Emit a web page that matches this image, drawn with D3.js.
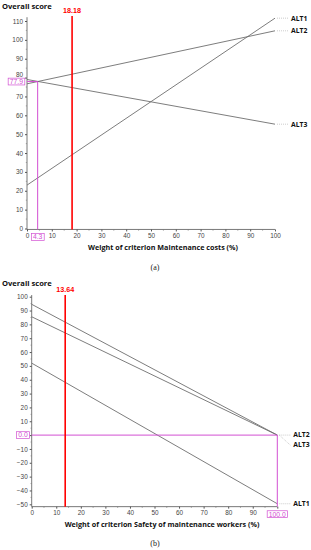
<!DOCTYPE html>
<html><head><meta charset="utf-8">
<script src="https://cdn.jsdelivr.net/npm/d3@7"></script>
<style>
html,body{margin:0;padding:0;background:#fff;}
svg{display:block;}
</style></head>
<body>
<svg id="c" width="311" height="550"></svg>
<script>
// ---- Data ----
const alternatives = ["ALT1", "ALT2", "ALT3"];
// Panel (a): weight of criterion Maintenance costs
const aWeights = [0, 100];
const aALT1 = [23.0, 111.5];
const aALT2 = [76.7, 104.8];
const aALT3 = [79.0, 55.3];
const aCurrentWeight = 18.18;
const aCrossWeight = 4.3;
const aCrossScore = 77.9;
const aYTicks = [0, 10, 20, 30, 40, 50, 60, 70, 80, 90, 100, 110];
const aXTicks = [0, 10, 20, 30, 40, 50, 60, 70, 80, 90, 100];
const aXTitle = "Weight of criterion Maintenance costs (%)";

// Panel (b): weight of criterion Safety of maintenance workers
const bWeights = [0, 100];
const bALT1 = [52.0, -49.6];
const bALT2 = [94.5, 0.0];
const bALT3 = [85.5, 0.0];
const bCurrentWeight = 13.64;
const bCrossWeight = 100.0;
const bCrossScore = 0.0;
const bYTicks = [-50, -40, -30, -20, -10, 0, 10, 20, 30, 40, 50, 60, 70, 80, 90, 100];
const bXTicks = [0, 10, 20, 30, 40, 50, 60, 70, 80, 90, 100];
const bXTitle = "Weight of criterion Safety of maintenance workers (%)";

const yTitle = "Overall score";

const svg = d3.select("#c");
const GRAY = "#6e6e6e", RED = "#ff0000", MAG = "#d24fd2", TXT = "#444";
const tickFont = "'Liberation Sans', Arial, sans-serif";

function panel(cfg) {
  const x = d3.scaleLinear().domain([0, 100]).range(cfg.xr);
  const y = d3.scaleLinear().domain(cfg.yd).range(cfg.yr);
  const g = svg.append("g");
  const axisY = cfg.axisYVal, topVal = cfg.topVal;
  const mx = x(cfg.crossW), my = y(cfg.crossS);

  // y title
  g.append("text").attr("x", cfg.titleX).attr("y", cfg.titleY)
    .attr("font-family", "'Open Sans', 'DejaVu Sans', sans-serif").attr("font-weight", "bold")
    .attr("font-size", 7.6).attr("fill", "#111").text(yTitle);

  // y axis
  const yAxis = d3.axisLeft(y).tickValues(cfg.yTicks).tickSize(2).tickPadding(2)
    .tickFormat(d3.format("d"));
  const ya = g.append("g").attr("transform", `translate(${x(0)},0)`).call(yAxis);
  ya.select(".domain").remove();
  ya.selectAll("line").attr("stroke", "#555");
  ya.selectAll("text").attr("font-family", tickFont).attr("font-size", 6.4).attr("fill", TXT);
  g.append("line").attr("x1", x(0)).attr("x2", x(0)).attr("y1", y(axisY)).attr("y2", y(topVal))
    .attr("stroke", "#555").attr("stroke-width", 0.8);
  const yMinor = cfg.yTicks.slice(0, -1).map(v => v + 5);
  g.selectAll(".ym").data(yMinor).join("line").attr("x1", x(0) - 1.2).attr("x2", x(0))
    .attr("y1", d => y(d)).attr("y2", d => y(d)).attr("stroke", "#777").attr("stroke-width", 0.6);

  // x axis
  const xAxis = d3.axisBottom(x).tickValues(cfg.xTicks).tickSize(2).tickPadding(2)
    .tickFormat(d3.format("d"));
  const xa = g.append("g").attr("transform", `translate(0,${y(axisY)})`).call(xAxis);
  xa.select(".domain").remove();
  xa.selectAll("line").attr("stroke", "#555");
  xa.selectAll("text").attr("font-family", tickFont).attr("font-size", 6.4).attr("fill", TXT);
  g.append("line").attr("x1", x(0)).attr("x2", x(100)).attr("y1", y(axisY)).attr("y2", y(axisY))
    .attr("stroke", "#555").attr("stroke-width", 0.8);
  const xMinor = cfg.xTicks.slice(0, -1).map(v => v + 5);
  g.selectAll(".xm").data(xMinor).join("line").attr("x1", d => x(d)).attr("x2", d => x(d))
    .attr("y1", y(axisY)).attr("y2", y(axisY) + 1.3).attr("stroke", "#777").attr("stroke-width", 0.6);

  // boxed labels replace tick labels at crossing value; nudge neighbours clear of the box
  xa.selectAll(".tick").filter(d => Math.abs(d - cfg.crossW) < 0.01).select("text").remove();
  ya.selectAll(".tick").filter(d => Math.abs(d - cfg.crossS) < 0.01).select("text").remove();
  ya.selectAll(".tick").each(function(d) {
    const dy = y(d) - my;
    if (Math.abs(d - cfg.crossS) > 0.01 && Math.abs(dy) < 7.6) {
      d3.select(this).select("text").attr("y", (dy < 0 ? -1 : 1) * (7.6 - Math.abs(dy)));
    }
  });

  // alternative lines
  const line = d3.line().x(d => x(d[0])).y(d => y(d[1]));
  cfg.series.forEach(s => {
    g.append("path").datum(cfg.weights.map((w, i) => [w, s.vals[i]]))
      .attr("d", line).attr("fill", "none").attr("stroke", GRAY).attr("stroke-width", 0.9);
  });

  // labels with spacing
  const ends = cfg.series.map(s => ({name: s.name, yEnd: y(s.vals[s.vals.length - 1]), order: s.order}))
    .sort((a, b) => a.yEnd - b.yEnd || a.order - b.order);
  let prev = -1e9;
  ends.forEach(e => { e.ly = Math.max(e.yEnd, prev + 10); prev = e.ly; });
  ends.forEach(e => {
    g.append("line").attr("x1", x(100) + 2).attr("x2", x(100) + 13).attr("y1", e.yEnd).attr("y2", e.ly)
      .attr("stroke", "#aaa").attr("stroke-width", 0.6).attr("stroke-dasharray", "1,1");
    g.append("text").attr("x", x(100) + 16).attr("y", e.ly).attr("dy", "0.35em")
      .attr("font-family", "'Open Sans', 'DejaVu Sans', sans-serif").attr("font-weight", "bold")
      .attr("font-size", 6.8).attr("fill", "#111").text(e.name);
  });

  // magenta cross lines
  g.append("path").attr("d", `M${x(0)},${my}H${mx}V${y(axisY)}`)
    .attr("fill", "none").attr("stroke", MAG).attr("stroke-width", 1);
  function box(cx, cy, txt, anchor) {
    const rect = g.append("rect");
    const t = g.append("text").attr("font-family", tickFont).attr("font-size", 6.8).attr("fill", MAG)
      .attr("text-anchor", anchor).attr("x", cx).attr("y", cy).attr("dy", "0.35em").text(txt);
    const bb = t.node().getBBox();
    rect.attr("x", bb.x - 1.6).attr("y", cy - 3.4).attr("width", bb.width + 3.2).attr("height", 6.8)
      .attr("fill", "#fff").attr("stroke", MAG).attr("stroke-width", 0.7);
  }
  box(x(0) - 4, my, d3.format(".1f")(cfg.crossS), "end");
  box(mx, y(axisY) + 7.5, d3.format(".1f")(cfg.crossW), "middle");

  // red current weight line
  const rx = x(cfg.current);
  g.append("line").attr("x1", rx).attr("x2", rx).attr("y1", cfg.redTop).attr("y2", y(axisY))
    .attr("stroke", RED).attr("stroke-width", 1.6);
  g.append("text").attr("x", rx).attr("y", cfg.redTop - 3.5).attr("text-anchor", "middle")
    .attr("font-family", tickFont).attr("font-weight", "bold").attr("font-size", 7.2).attr("fill", RED)
    .text(d3.format(".2f")(cfg.current));

  // x title
  g.append("text").attr("x", cfg.xTitleX).attr("y", cfg.xTitleY).attr("text-anchor", "middle")
    .attr("font-family", "'Open Sans', 'DejaVu Sans', sans-serif").attr("font-weight", "bold")
    .attr("font-size", 7.2).attr("fill", "#111").text(cfg.xTitle);
  // caption
  g.append("text").attr("x", cfg.capX).attr("y", cfg.capY).attr("text-anchor", "middle")
    .attr("font-family", "'Liberation Serif', 'DejaVu Serif', serif")
    .attr("font-size", 8).attr("fill", "#222").text(cfg.cap);
}

panel({
  xr: [27, 275], yd: [0, 110], yr: [228.5, 21], axisYVal: -0.5, topVal: 112,
  yTicks: aYTicks, xTicks: aXTicks, weights: aWeights,
  series: [{name: alternatives[0], vals: aALT1, order: 0}, {name: alternatives[1], vals: aALT2, order: 1}, {name: alternatives[2], vals: aALT3, order: 2}],
  current: aCurrentWeight, crossW: aCrossWeight, crossS: aCrossScore,
  redTop: 16, titleX: 2, titleY: 9, xTitle: aXTitle, xTitleX: 163, xTitleY: 250,
  cap: "(a)", capX: 155, capY: 270
});

panel({
  xr: [31.7, 277.3], yd: [-50, 100], yr: [504.3, 296.7], axisYVal: -51.7, topVal: 101.2,
  yTicks: bYTicks, xTicks: bXTicks, weights: bWeights,
  series: [{name: alternatives[0], vals: bALT1, order: 0}, {name: alternatives[1], vals: bALT2, order: 1}, {name: alternatives[2], vals: bALT3, order: 2}],
  current: bCurrentWeight, crossW: bCrossWeight, crossS: bCrossScore,
  redTop: 295, titleX: 2, titleY: 286, xTitle: bXTitle, xTitleX: 162, xTitleY: 527,
  cap: "(b)", capX: 155, capY: 546
});
</script>
</body></html>
